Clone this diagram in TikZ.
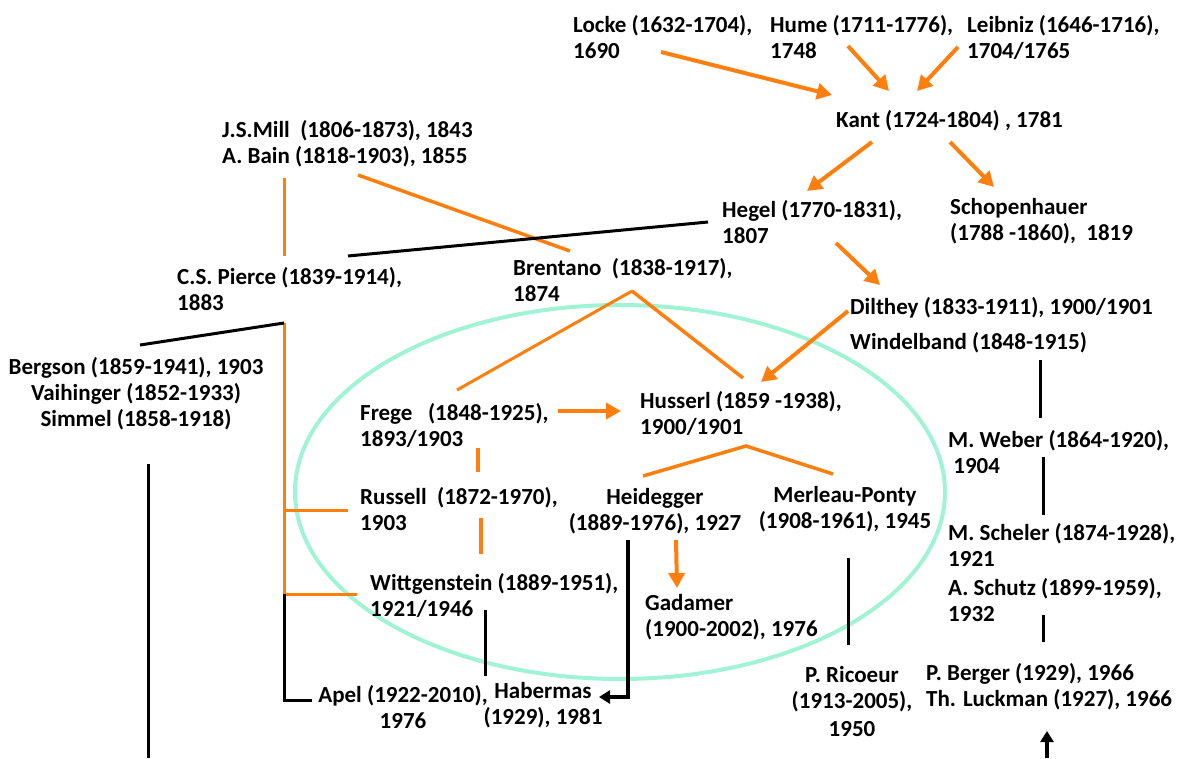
\documentclass[tikz,border=0pt]{standalone}
\usepackage{fontspec}
\setmainfont{Carlito}
\usetikzlibrary{arrows.meta}
\definecolor{infl}{RGB}{255,127,14}
\definecolor{circlemint}{RGB}{160,243,212}
\tikzset{
  % labels are placed by the baseline of their last line
  lbl/.style={inner sep=0pt, anchor=base west, align=left,
    font=\fontsize{23}{26}\selectfont\bfseries},
  clbl/.style={lbl, anchor=base, align=center},
  infarrow/.style={draw=infl, line width=4pt,
    -{Triangle[length=15pt,width=16pt]}},
  infline/.style={draw=infl, line width=3.5pt},
  thinline/.style={draw=infl, line width=3pt},
  link/.style={draw=black, line width=3pt},
  linkarrow/.style={draw=black, line width=3.5pt,
    -{Triangle[length=11pt,width=13pt]}},
  group/.style={draw=circlemint, line width=4pt}
}
\begin{document}
\begin{tikzpicture}[x=1pt,y=-1pt]
\useasboundingbox (0,0) rectangle (1183,758);

% circle round the phenomenological / analytic group
\draw[group] (620,492) ellipse [x radius=325, y radius=187];

% ---------- thinkers ----------
\node[lbl] (locke)   at (573,58)  {Locke (1632-1704),\\1690};
\node[lbl] (hume)    at (770,58)  {Hume (1711-1776),\\1748};
\node[lbl] (leibniz) at (967,58)  {Leibniz (1646-1716),\\1704/1765};
\node[lbl] (kant)    at (836,127) {Kant (1724-1804) , 1781};
\node[lbl] (mill)    at (222,163) {J.S.Mill\ \ (1806-1873), 1843\\A. Bain (1818-1903), 1855};
\node[lbl] (hegel)   at (722,243) {Hegel (1770-1831),\\1807};
\node[lbl] (schop)   at (950,240) {Schopenhauer\\(1788 -1860),\ \ 1819};
\node[lbl] (pierce)  at (177,310) {C.S. Pierce (1839-1914),\\1883};
\node[lbl] (brentano) at (513,301) {Brentano\ \ (1838-1917),\\1874};
\node[lbl] (dilthey) at (850,314) {Dilthey (1833-1911), 1900/1901};
\node[lbl] (windel)  at (850,349) {Windelband (1848-1915)};
\node[clbl] (bergson) at (136,426) {Bergson (1859-1941), 1903\\Vaihinger (1852-1933)\\Simmel (1858-1918)};
\node[lbl] (frege)   at (360,446) {Frege\ \ \ (1848-1925),\\1893/1903};
\node[lbl] (husserl) at (640,434) {Husserl (1859 -1938),\\1900/1901};
\node[lbl] (weber)   at (948,473) {M. Weber (1864-1920),\\\ 1904};
\node[lbl] (russell) at (360,530) {Russell\ \ (1872-1970),\\1903};
\node[clbl] (heidegger) at (655,530) {Heidegger\\(1889-1976), 1927};
\node[clbl] (merleau) at (845,528) {Merleau-Ponty\\(1908-1961), 1945};
\node[lbl] (scheler) at (948,621) {M. Scheler (1874-1928),\\1921\\[3pt]A. Schutz (1899-1959),\\1932};
\node[lbl] (witt)    at (370,616) {Wittgenstein (1889-1951),\\1921/1946};
\node[lbl] (gadamer) at (645,636) {Gadamer\\(1900-2002), 1976};
\node[clbl] (ricoeur) at (852,736) {P. Ricoeur\\(1913-2005),\\[2pt]1950};
\node[lbl] (berger)  at (926,706) {P. Berger (1929), 1966\\Th. Luckman (1927), 1966};
\node[clbl] (apel)   at (403,728) {Apel (1922-2010),\\1976};
\node[clbl] (habermas) at (543,724) {Habermas\\(1929), 1981};

% ---------- connector end points ----------
\coordinate (lockeS)  at (661,52);   \coordinate (kantA) at (832,95);
\coordinate (humeS)   at (848,46);   \coordinate (kantB) at (889,91);
\coordinate (leibS)   at (958,47);   \coordinate (kantC) at (917,91);
\coordinate (kantL)   at (872,142);  \coordinate (hegelT) at (807,191);
\coordinate (kantR)   at (950,142);  \coordinate (schopT) at (994,187);
\coordinate (millL)   at (284,178);  \coordinate (pierceT) at (284,256);
\coordinate (millR)   at (358,175);  \coordinate (brentT) at (570,251);
\coordinate (pierceR) at (348,256);  \coordinate (hegelL) at (708,222);
\coordinate (hegelB)  at (836,243);  \coordinate (dilT) at (880,285);
\coordinate (dilL)    at (848,311);  \coordinate (husT) at (761,382);
\coordinate (fregeT)  at (457,390);  \coordinate (brentB) at (632,291);
\coordinate (husTR)   at (743,378);
\coordinate (bergT)   at (140,345);  \coordinate (pierceB) at (284,323);
\coordinate (russJ)   at (284,510);  \coordinate (russL) at (348,510);
\coordinate (wittJ)   at (284,594);  \coordinate (wittL) at (357,594);
\coordinate (apelC)   at (284,700);  \coordinate (apelL) at (312,700);
\coordinate (bergB)   at (148,464);  \coordinate (bergEnd) at (148,758);
\coordinate (fregeR)  at (558,411);  \coordinate (husL) at (621,411);
\coordinate (fregeB)  at (478,448);  \coordinate (russT) at (478,472);
\coordinate (russB)   at (481,518);  \coordinate (wittT) at (481,554);
\coordinate (heidT)   at (643,476);  \coordinate (husB) at (746,446);
\coordinate (merT)    at (833,474);
\coordinate (heidR)   at (676,540);  \coordinate (gadT) at (677,588);
\coordinate (heidB)   at (628,540);  \coordinate (habC) at (628,697);
\coordinate (habR)    at (599,697);
\coordinate (wittB)   at (485,610);  \coordinate (habT) at (485,676);
\coordinate (merB)    at (848,558);  \coordinate (ricT) at (848,645);
\coordinate (windB)   at (1040,360); \coordinate (weberT) at (1040,418);
\coordinate (weberB)  at (1043,457); \coordinate (schelT) at (1043,515);
\coordinate (schutzB) at (1043,615); \coordinate (bergerT) at (1043,642);
\coordinate (bottomIn) at (1047,758); \coordinate (bergerB) at (1047,731);

% ---------- influences (orange) ----------
\draw[infarrow] (lockeS) -- (kantA);
\draw[infarrow] (humeS) -- (kantB);
\draw[infarrow] (leibS) -- (kantC);
\draw[infarrow] (kantL) -- (hegelT);
\draw[infarrow] (kantR) -- (schopT);
\draw[infarrow] (hegelB) -- (dilT);
\draw[infarrow] (dilL) -- (husT);
\draw[infarrow] (fregeR) -- (husL);
\draw[infarrow] (heidR) -- (gadT);
\draw[thinline] (millL) -- (pierceT);
\draw[infline] (millR) -- (brentT);
\draw[thinline] (fregeT) -- (brentB);
\draw[infline] (brentB) -- (husTR);
\draw[thinline] (pierceB) -- (wittJ);
\draw[thinline] (russJ) -- (russL);
\draw[thinline] (wittJ) -- (wittL);
\draw[infline] (fregeB) -- (russT);
\draw[infline] (russB) -- (wittT);
\draw[infline] (heidT) -- (husB) -- (merT);

% ---------- other links (black) ----------
\draw[link] (pierceR) -- (hegelL);
\draw[link] (bergT) -- (pierceB);
\draw[link] (wittJ) -- (apelC) -- (apelL);
\draw[link] (bergB) -- (bergEnd);
\draw[linkarrow] (heidB) -- (habC) -- (habR);
\draw[link] (wittB) -- (habT);
\draw[link] (merB) -- (ricT);
\draw[link] (windB) -- (weberT);
\draw[link] (weberB) -- (schelT);
\draw[link] (schutzB) -- (bergerT);
\draw[linkarrow] (bottomIn) -- (bergerB);
\end{tikzpicture}
\end{document}
